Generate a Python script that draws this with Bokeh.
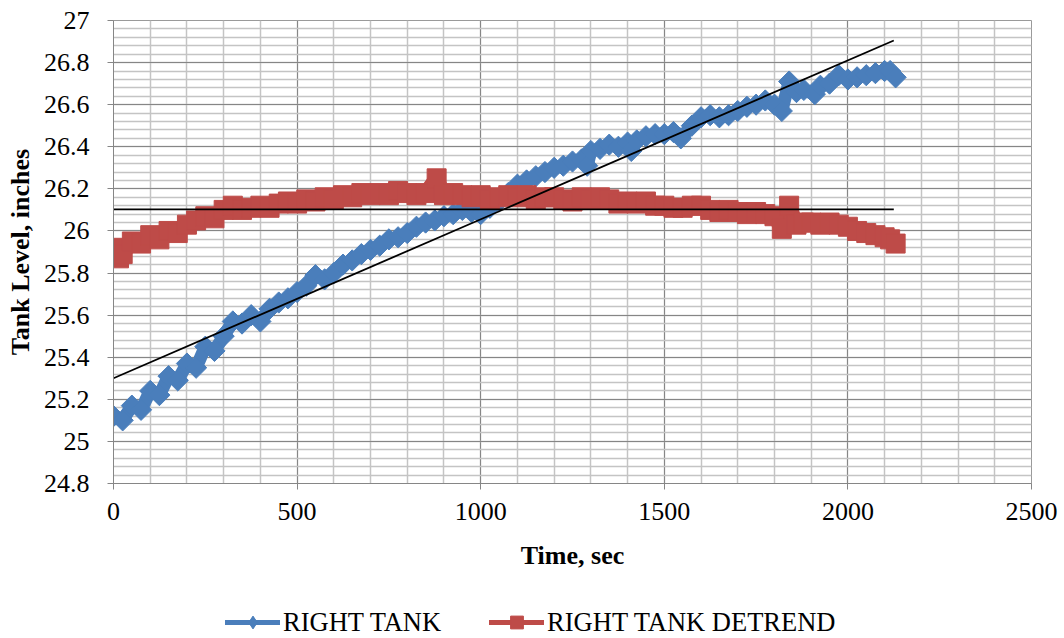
from bokeh.plotting import figure
from bokeh.models import (Range1d, FixedTicker, CustomJSTickFormatter, Legend, LegendItem,
                          ColumnDataSource)
from bokeh.layouts import column
from bokeh.embed import file_html
from bokeh.resources import INLINE
import math

# ---------------- data ----------------
right_t = [0, 25, 50, 75, 100, 125, 150, 175, 200, 225, 250, 275, 300, 325, 350, 375,
           400, 425, 450, 475, 500, 525, 550, 575, 600, 625, 650, 675, 700, 725, 750,
           775, 800, 825, 850, 875, 900, 925, 950, 975, 1000, 1025, 1050, 1075, 1100,
           1125, 1150, 1175, 1200, 1225, 1250, 1275, 1290, 1300, 1325, 1350, 1375, 1400,
           1410, 1425, 1450, 1475, 1500, 1525, 1545, 1575, 1600, 1625, 1650, 1675, 1700,
           1725, 1750, 1775, 1800, 1820, 1840, 1860, 1880, 1910, 1925, 1950, 1975, 2000,
           2025, 2050, 2075, 2100, 2115, 2130]
right_v = [25.12, 25.10, 25.17, 25.15, 25.24, 25.22, 25.31, 25.29, 25.37, 25.35, 25.45,
           25.43, 25.50, 25.57, 25.56, 25.60, 25.57, 25.63, 25.66, 25.68, 25.71, 25.74,
           25.79, 25.77, 25.80, 25.84, 25.86, 25.89, 25.91, 25.93, 25.96, 25.97, 25.99,
           26.02, 26.04, 26.05, 26.07, 26.08, 26.10, 26.09, 26.08, 26.11, 26.14, 26.18,
           26.22, 26.24, 26.26, 26.28, 26.30, 26.31, 26.33, 26.34, 26.31, 26.38, 26.39,
           26.41, 26.40, 26.42, 26.38, 26.43, 26.45, 26.46, 26.46, 26.47, 26.44, 26.50,
           26.54, 26.55, 26.54, 26.55, 26.57, 26.59, 26.60, 26.62, 26.60, 26.57, 26.71,
           26.66, 26.67, 26.65, 26.69, 26.70, 26.74, 26.72, 26.73, 26.74, 26.75, 26.76,
           26.76, 26.73]

detrend_t = [0, 15, 25, 50, 75, 100, 125, 150, 175, 200, 225, 250, 275, 300, 325, 350,
             375, 400, 425, 450, 475, 500, 525, 550, 575, 600, 625, 650, 675, 700, 725,
             750, 775, 800, 825, 850, 880, 900, 925, 950, 975, 1000, 1025, 1050, 1075,
             1100, 1125, 1150, 1175, 1200, 1225, 1250, 1275, 1300, 1325, 1350, 1375,
             1400, 1425, 1450, 1475, 1500, 1525, 1550, 1575, 1600, 1625, 1650, 1675,
             1700, 1725, 1750, 1775, 1800, 1820, 1840, 1860, 1880, 1900, 1925, 1950,
             1975, 2000, 2025, 2050, 2075, 2100, 2115, 2130]
detrend_v = [25.92, 25.87, 25.89, 25.95, 25.94, 25.98, 25.96, 26.00, 25.99, 26.03, 26.05,
             26.07, 26.06, 26.10, 26.12, 26.10, 26.11, 26.12, 26.11, 26.13, 26.14, 26.13,
             26.15, 26.14, 26.16, 26.15, 26.17, 26.16, 26.18, 26.17, 26.18, 26.17, 26.19,
             26.18, 26.17, 26.18, 26.25, 26.17, 26.18, 26.17, 26.16, 26.17, 26.15, 26.16,
             26.17, 26.16, 26.17, 26.15, 26.16, 26.16, 26.15, 26.14, 26.16, 26.15, 26.16,
             26.15, 26.13, 26.14, 26.13, 26.14, 26.12, 26.12, 26.11, 26.11, 26.12, 26.12,
             26.10, 26.09, 26.10, 26.09, 26.08, 26.09, 26.08, 26.07, 26.01, 26.12, 26.03,
             26.04, 26.04, 26.03, 26.04, 26.03, 26.02, 26.00, 25.99, 25.98, 25.97, 25.96,
             25.94]

# linear trendlines (Excel-style), endpoints
trend_t = [0, 2125]
trend_right = [25.30, 26.905]
trend_detrend = [26.103, 26.103]

x_ticks = [0, 500, 1000, 1500, 2000, 2500]
y_ticks = [24.8, 25.0, 25.2, 25.4, 25.6, 25.8, 26.0, 26.2, 26.4, 26.6, 26.8, 27.0]

x_title = "Time, sec"
y_title = "Tank Level, inches"
series_names = ["RIGHT TANK", "RIGHT TANK DETREND"]

BLUE = "#4A7EBB"
RED = "#BE4B48"
FONT = "Liberation Serif"

# ---------------- main figure ----------------
p = figure(width=1064, height=606, output_backend="svg", toolbar_location=None,
           x_range=Range1d(0, 2500), y_range=Range1d(24.8, 27.0),
           min_border_left=113, min_border_right=33, min_border_top=20,
           min_border_bottom=123)
p.background_fill_color = "white"
p.border_fill_color = "white"
p.outline_line_color = "#9a9a9a"
p.outline_line_width = 1

x_minor = [100 * i for i in range(0, 26)]
y_minor = [round(24.8 + 0.04 * i, 2) for i in range(0, 56)]
p.xaxis.ticker = FixedTicker(ticks=x_ticks, minor_ticks=x_minor)
p.yaxis.ticker = FixedTicker(ticks=y_ticks, minor_ticks=y_minor)
p.yaxis.formatter = CustomJSTickFormatter(code="return String(Number(tick.toFixed(2)));")

for ax in (p.xaxis[0], p.yaxis[0]):
    ax.axis_line_color = "#868686"
    ax.major_tick_line_color = "#868686"
    ax.major_tick_out = 6
    ax.major_tick_in = 0
    ax.minor_tick_line_color = None
    ax.major_label_text_font = FONT
    ax.major_label_text_font_size = "26px"
    ax.major_label_text_color = "black"
    ax.axis_label_text_font = FONT
    ax.axis_label_text_font_size = "26px"
    ax.axis_label_text_font_style = "bold"
    ax.axis_label_text_color = "black"

p.xaxis.axis_label = x_title
p.yaxis.axis_label = y_title
p.xaxis.major_label_standoff = 13
p.xaxis.axis_label_standoff = 18
p.yaxis.major_label_standoff = 18
p.yaxis.axis_label_standoff = 6

p.xgrid.grid_line_color = "#868686"
p.ygrid.grid_line_color = "#868686"
p.xgrid.minor_grid_line_color = "#c4c4c4"
p.ygrid.minor_grid_line_color = "#c4c4c4"
p.xgrid.minor_grid_line_width = 1.5
p.ygrid.minor_grid_line_width = 1.5

src_r = ColumnDataSource(dict(t=right_t, v=right_v))
src_d = ColumnDataSource(dict(t=detrend_t, v=detrend_v))

p.line("t", "v", source=src_r, line_color=BLUE, line_width=13, line_join="round")
p.scatter("t", "v", source=src_r, marker="square", angle=math.pi / 4, size=15,
          fill_color=BLUE, line_color=BLUE)
p.line("t", "v", source=src_d, line_color=RED, line_width=15, line_join="round")
p.scatter("t", "v", source=src_d, marker="square", size=19,
          fill_color=RED, line_color=RED)

p.line(trend_t, trend_right, line_color="black", line_width=1.8)
p.line(trend_t, trend_detrend, line_color="black", line_width=1.8)

# ---------------- legend strip (same series styling) ----------------
lf = figure(width=1064, height=32, output_backend="svg", toolbar_location=None,
            x_axis_type=None, y_axis_type=None, min_border=0,
            x_range=Range1d(0, 1), y_range=Range1d(0, 1))
lf.outline_line_color = None
lf.xgrid.visible = False
lf.ygrid.visible = False
lf.border_fill_color = "white"
lf.background_fill_color = "white"

# one off-screen point each, so that the legend can draw the glyphs
e1 = ColumnDataSource(dict(t=[-5], v=[-5]))
e2 = ColumnDataSource(dict(t=[-5], v=[-5]))
ll1 = lf.line("t", "v", source=e1, line_color=BLUE, line_width=5, line_cap="round")
lm1 = lf.scatter("t", "v", source=e1, marker="diamond", size=19,
                 fill_color=BLUE, line_color=BLUE)
ll2 = lf.line("t", "v", source=e2, line_color=RED, line_width=5, line_cap="round")
lm2 = lf.scatter("t", "v", source=e2, marker="square", size=13,
                 fill_color=RED, line_color=RED)

legend = Legend(items=[LegendItem(label=series_names[0], renderers=[ll1, lm1]),
                       LegendItem(label=series_names[1], renderers=[ll2, lm2])],
                orientation="horizontal", location=(112, 0),
                label_text_font=FONT, label_text_font_size="26.5px",
                label_text_color="black", glyph_width=55, glyph_height=32,
                label_standoff=3, spacing=48, padding=0, margin=0,
                border_line_color=None, background_fill_alpha=0)
lf.add_layout(legend, "center")

layout = column(p, lf, spacing=0)
open("out.html", "w").write(file_html(layout, INLINE))
